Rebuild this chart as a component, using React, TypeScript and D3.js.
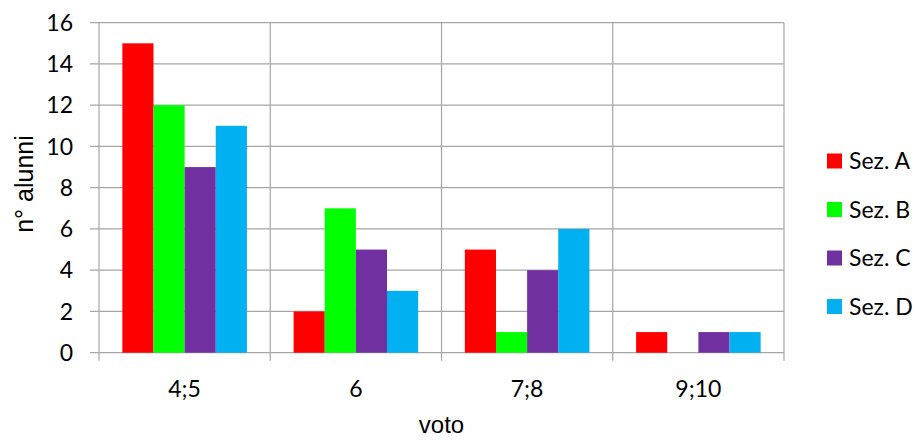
import React from "react";
import * as d3 from "d3";

const categories = ["4;5", "6", "7;8", "9;10"];
const seriesNames = ["Sez. A", "Sez. B", "Sez. C", "Sez. D"];
const seriesColors = ["#FF0000", "#00FF00", "#7030A0", "#00B0F0"];
const sezA = [15, 2, 5, 1];
const sezB = [12, 7, 1, 0];
const sezC = [9, 5, 4, 1];
const sezD = [11, 3, 6, 1];
const yTicks = [0, 2, 4, 6, 8, 10, 12, 14, 16];
const xTitle = "voto";
const yTitle = "n° alunni";

const W = 919;
const H = 440;
const m = { left: 99, right: 784, top: 22.7, bottom: 352.7 };
const tickFont = "Lato, 'Open Sans', sans-serif";
const titleFont = "'Liberation Sans', Arial, sans-serif";
const grid = "#a6a6a6";

export default function App() {
  const values = [sezA, sezB, sezC, sezD];
  const x0 = d3.scaleBand<string>().domain(categories).range([m.left, m.right]).paddingInner(0).paddingOuter(0);
  const x1 = d3
    .scaleBand<string>()
    .domain(seriesNames)
    .range([0, x0.bandwidth()])
    .paddingInner(0)
    .paddingOuter(0.75);
  const y = d3.scaleLinear().domain([0, 16]).range([m.bottom, m.top]);
  const boundaries = [...categories.map((c) => x0(c) as number), m.right];

  return (
    <svg width={W} height={H} style={{ position: "absolute", left: 0, top: 0, background: "#fff" }}>
      {yTicks.map((t) => (
        <line key={"h" + t} x1={m.left - 9} x2={m.right} y1={y(t)} y2={y(t)} stroke={grid} strokeWidth={1.2} />
      ))}
      {boundaries.map((b, i) => (
        <line key={"v" + i} x1={b} x2={b} y1={m.top} y2={m.bottom + 8} stroke={grid} strokeWidth={1.2} />
      ))}
      {seriesNames.map((s, si) =>
        categories.map((c, ci) => {
          const v = values[si][ci];
          if (!v) return null;
          return (
            <rect
              key={s + c}
              x={(x0(c) as number) + (x1(s) as number)}
              y={y(v)}
              width={x1.bandwidth()}
              height={y(0) - y(v)}
              fill={seriesColors[si]}
            />
          );
        })
      )}
      {yTicks.map((t) => (
        <text key={"yl" + t} x={73} y={y(t)} dy="0.35em" textAnchor="end" fontFamily={tickFont} fontSize={23} fill="#000">
          {t}
        </text>
      ))}
      {categories.map((c) => (
        <text
          key={"xl" + c}
          x={(x0(c) as number) + x0.bandwidth() / 2}
          y={397}
          textAnchor="middle"
          fontFamily={tickFont}
          fontSize={23}
          fill="#000"
        >
          {c}
        </text>
      ))}
      <text x={(m.left + m.right) / 2} y={433} textAnchor="middle" fontFamily={titleFont} fontSize={24} fill="#000">
        {xTitle}
      </text>
      <text
        transform={`translate(33, ${184}) rotate(-90)`}
        textAnchor="middle"
        fontFamily={titleFont}
        fontSize={25}
        fill="#000"
      >
        {yTitle}
      </text>
      {seriesNames.map((s, i) => (
        <g key={"lg" + s} transform={`translate(827, ${161 + i * 48.5})`}>
          <rect x={0} y={-7.5} width={15} height={15} fill={seriesColors[i]} />
          <text x={22} y={0} dy="0.35em" fontFamily={tickFont} fontSize={23} fill="#000">
            {s}
          </text>
        </g>
      ))}
    </svg>
  );
}
